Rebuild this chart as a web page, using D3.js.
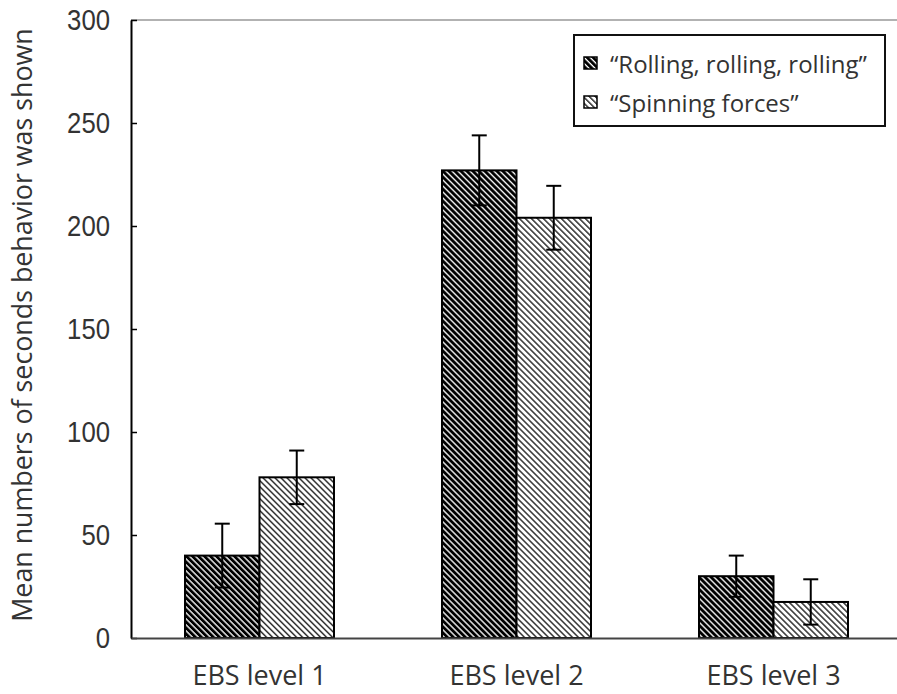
<!DOCTYPE html>
<html><head><meta charset="utf-8">
<script src="https://cdn.jsdelivr.net/npm/d3@7"></script>
<style>body{margin:0;background:#fff}</style>
</head><body><svg id="c" width="897" height="694"></svg>
<script>
const categories = ["EBS level 1", "EBS level 2", "EBS level 3"];
const seriesNames = ["“Rolling, rolling, rolling”", "“Spinning forces”"];
const rollingMeans = [40, 227, 30];
const rollingErrors = [15.5, 17, 10];
const spinningMeans = [78, 204, 17.5];
const spinningErrors = [13, 15.5, 11];
const yTicks = [0, 50, 100, 150, 200, 250, 300];
const yTitle = "Mean numbers of seconds behavior was shown";

const svg = d3.select("#c");
const W = 897;
const y = d3.scaleLinear().domain([0, 300]).range([638, 20]);
const x0 = d3.scaleBand().domain(categories).range([131, 902]).paddingInner(0).paddingOuter(0);
const x1 = d3.scaleBand().domain(seriesNames).range([0, x0.bandwidth()]).paddingInner(0).paddingOuter(0.725);

// patterns
const defs = svg.append("defs");
function hatch(id, w, color) {
  const p = defs.append("pattern").attr("id", id).attr("patternUnits", "userSpaceOnUse")
    .attr("width", 4.24).attr("height", 10).attr("patternTransform", "rotate(-45)");
  p.append("rect").attr("width", 4.24).attr("height", 10).attr("fill", "#fff");
  p.append("rect").attr("width", w).attr("height", 10).attr("fill", color);
}
hatch("hDark", 2.9, "#000");
hatch("hLight", 1.4, "#222");
const fills = ["url(#hDark)", "url(#hLight)"];

function fit(sel, target) {
  const s = parseFloat(sel.style("font-size"));
  const L = sel.node().getComputedTextLength();
  sel.style("font-size", (s * target / L) + "px");
}

// top frame line
svg.append("line").attr("x1", 131).attr("x2", W).attr("y1", y(300)).attr("y2", y(300))
  .attr("stroke", "#999").attr("stroke-width", 1.5);

// bars
const series = [
  {name: seriesNames[0], means: rollingMeans, errs: rollingErrors, fill: fills[0]},
  {name: seriesNames[1], means: spinningMeans, errs: spinningErrors, fill: fills[1]}
];
const rows = [];
series.forEach(s => categories.forEach((c, i) => rows.push({c, s: s.name, v: s.means[i], e: s.errs[i], fill: s.fill})));

svg.append("g").selectAll("rect").data(rows).join("rect")
  .attr("x", d => x0(d.c) + x1(d.s))
  .attr("y", d => y(d.v))
  .attr("width", x1.bandwidth())
  .attr("height", d => y(0) - y(d.v))
  .attr("fill", d => d.fill)
  .attr("stroke", "#000").attr("stroke-width", 2);

// error bars
const eg = svg.append("g").attr("stroke", "#000").attr("stroke-width", 2);
rows.forEach(d => {
  const cx = x0(d.c) + x1(d.s) + x1.bandwidth() / 2;
  eg.append("line").attr("x1", cx).attr("x2", cx).attr("y1", y(d.v + d.e)).attr("y2", y(d.v - d.e));
  eg.append("line").attr("x1", cx - 7.5).attr("x2", cx + 7.5).attr("y1", y(d.v + d.e)).attr("y2", y(d.v + d.e));
  eg.append("line").attr("x1", cx - 7.5).attr("x2", cx + 7.5).attr("y1", y(d.v - d.e)).attr("y2", y(d.v - d.e));
});

// y axis
const ya = svg.append("g").attr("transform", "translate(131,0)")
  .call(d3.axisLeft(y).tickValues(yTicks).tickSizeInner(-6).tickSizeOuter(0).tickPadding(21));
ya.select(".domain").attr("stroke", "#000").attr("stroke-width", 2);
ya.selectAll(".tick line").attr("stroke", "#000").attr("stroke-width", 1.5);
ya.selectAll(".tick text").attr("fill", "#333")
  .style("font-family", "'Liberation Sans',sans-serif")
  .style("font-size", "29px").style("font-weight", "300")
  .attr("textLength", d => String(d).length * 14.3)
  .attr("lengthAdjust", "spacingAndGlyphs");

// x axis
const xa = svg.append("g").attr("transform", "translate(0,638)")
  .call(d3.axisBottom(x0).tickSize(0).tickPadding(28));
xa.select(".domain").attr("stroke", "#444").attr("stroke-width", 2);
xa.selectAll(".tick text").attr("fill", "#333")
  .style("font-family", "'Open Sans',sans-serif").style("font-size", "27px");

// y title
const yt = svg.append("text").attr("transform", "translate(32,325) rotate(-90)")
  .attr("text-anchor", "middle").attr("fill", "#333")
  .style("font-family", "'Open Sans',sans-serif").style("font-size", "24px").text(yTitle);
fit(yt, 594);

// legend
const lg = svg.append("g");
lg.append("rect").attr("x", 574).attr("y", 35).attr("width", 311).attr("height", 91)
  .attr("fill", "#fff").attr("stroke", "#111").attr("stroke-width", 2);
const legY = [73, 112];
series.forEach((s, i) => {
  lg.append("rect").attr("x", 584).attr("y", legY[i] - 16).attr("width", 13).attr("height", 12)
    .attr("fill", s.fill).attr("stroke", "#000").attr("stroke-width", 1.5);
  const t = lg.append("text").attr("x", 610).attr("y", legY[i]).attr("fill", "#333")
    .style("font-family", "'Open Sans',sans-serif").style("font-size", "24px").text(s.name);
  if (i === 0) fit(t, 257);
  else t.style("font-size", lg.select("text").style("font-size"));
});
</script></body></html>
